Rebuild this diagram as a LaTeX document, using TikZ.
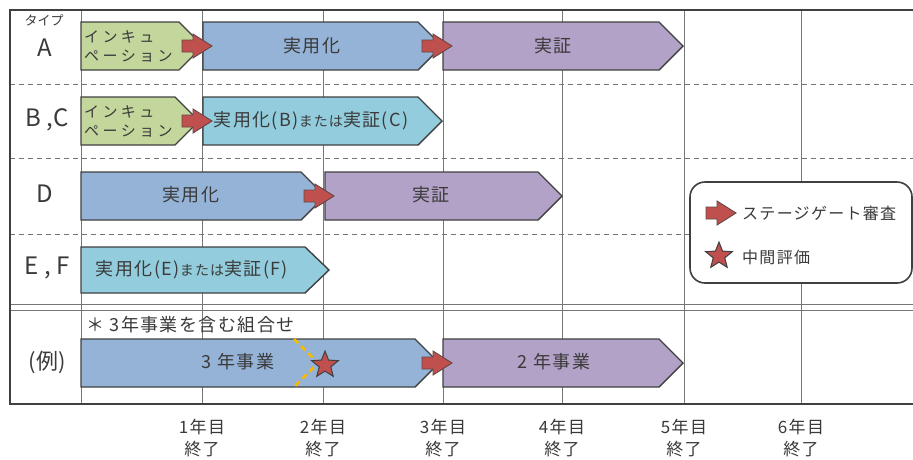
\documentclass[tikz,border=0pt]{standalone}
\usepackage{fontspec}
\setmainfont{Noto Sans CJK JP}
\newfontfamily\jpw{Noto Sans CJK JP}[LetterSpace=8]
\usetikzlibrary{shapes.geometric}
\definecolor{cGreen}{HTML}{C3D69B}
\definecolor{cBlue}{HTML}{95B3D7}
\definecolor{cPurple}{HTML}{B3A2C7}
\definecolor{cCyan}{HTML}{93CDDD}
\definecolor{cRed}{HTML}{C0504D}
\definecolor{cLine}{HTML}{404040}
\definecolor{cGrid}{HTML}{767676}
\definecolor{cTxt}{HTML}{3A3A3A}
\definecolor{cGold}{HTML}{F8BA00}
\newcommand\fs[1]{\fontsize{#1}{#1}\selectfont}
\begin{document}
\begin{tikzpicture}[x=1pt,y=-1pt,
  frame/.style={draw=cLine, line width=1.6pt},
  grid/.style={draw=cGrid, line width=1pt},
  dgrid/.style={draw=cGrid, line width=1pt, dash pattern=on 5pt off 4pt},
  stagebar/.style={draw=cLine, line width=1.4pt, line join=miter},
  lbl/.style={text=cTxt, inner sep=0pt, align=center},
  big/.style={lbl, font=\fs{24}},
  bartxt/.style={lbl, font=\jpw\fs{18}},
  axis/.style={lbl, font=\jpw\fs{17}},
  gatearrow/.pic={\draw[fill=cRed, draw=cLine!70!cRed, line width=0.9pt, line join=miter]
     (-15,-6) -- (-4,-6) -- (-4,-12) -- (15,0) -- (-4,12) -- (-4,6) -- (-15,6) -- cycle;},
  midstar/.style={star, star points=5, star point ratio=2.3, minimum size=28pt, inner sep=0pt,
     fill=cRed, draw=cLine, line width=1pt}
]
\useasboundingbox (0,0) rectangle (913,459);

% grid
\foreach \x in {202,323,443,562,684,801} \draw[grid] (\x,10) -- (\x,404);
\foreach \y in {84,158,234} \draw[dgrid] (10,\y) -- (913,\y);
\draw[grid] (10,304) -- (913,304);
\draw[grid] (10,310) -- (913,310);
\draw[grid] (81,10) -- (81,404);
\draw[frame] (913,10) -- (10,10) -- (10,404) -- (913,404);

% left column labels
\node[lbl, font=\fs{13}] (typ) at (44,20) {タイプ};
\node[big] (la) at (45,48) {A};
\node[big] (lbc) at (47,120) {B ,C};
\node[big] (ld) at (45,194) {D};
\node[big] (lef) at (47,268) {E , F};
\node[lbl, font=\fs{22}] (lex) at (47,362) {(例)};

% row A
\draw[stagebar, fill=cGreen] (81,22) -- (179,22) -- (203,46) -- (179,70) -- (81,70) -- cycle;
\node[lbl, font=\fs{15}, align=left, anchor=west] (a1) at (84,46) {イ ン キ ュ\\[4pt]ペ ー シ ョ ン};
\draw[stagebar, fill=cBlue] (203,22) -- (418,22) -- (442,46) -- (418,70) -- (203,70) -- cycle;
\node[bartxt] (a2) at (312,46) {実用化};
\draw[stagebar, fill=cPurple] (443,22) -- (659,22) -- (683,46) -- (659,70) -- (443,70) -- cycle;
\node[bartxt] (a3) at (553,46) {実証};
\pic at (197,46) {gatearrow};
\pic at (437,46) {gatearrow};

% row B,C
\draw[stagebar, fill=cGreen] (81,97) -- (175,97) -- (199,121) -- (175,145) -- (81,145) -- cycle;
\node[lbl, font=\fs{15}, align=left, anchor=west] (b1) at (84,121) {イ ン キ ュ\\[4pt]ペ ー シ ョ ン};
\draw[stagebar, fill=cCyan] (203,97) -- (418,97) -- (442,121) -- (418,145) -- (203,145) -- cycle;
\node[lbl, font=\jpw] (b2) at (311,121) {\fs{18}実用化(B)\fs{14}または\fs{18}実証(C)};
\pic at (197,121) {gatearrow};

% row D
\draw[stagebar, fill=cBlue] (81,172) -- (301,172) -- (325,196) -- (301,220) -- (81,220) -- cycle;
\node[bartxt] (d1) at (191,195) {実用化};
\draw[stagebar, fill=cPurple] (325,172) -- (538,172) -- (562,196) -- (538,220) -- (325,220) -- cycle;
\node[bartxt] (d2) at (431,195) {実証};
\pic at (319,196) {gatearrow};

% row E,F
\draw[stagebar, fill=cCyan] (81,247) -- (305,247) -- (329,270) -- (305,293) -- (81,293) -- cycle;
\node[lbl, font=\jpw] (e1) at (192,270) {\fs{18}実用化(E)\fs{14}または\fs{18}実証(F)};

% example row
\node[lbl, font=\jpw\fs{18}, anchor=west] (note) at (86,325) {＊ 3年事業を含む組合せ};
\draw[stagebar, fill=cBlue] (81,339) -- (415,339) -- (439,363) -- (415,387) -- (81,387) -- cycle;
\node[bartxt] (x1) at (238,362) {3 年事業};
\draw[stagebar, fill=cPurple] (443,339) -- (659,339) -- (683,363) -- (659,387) -- (443,387) -- cycle;
\node[bartxt] (x2) at (554,362) {2 年事業};
\pic at (437,363) {gatearrow};
\coordinate (y1) at (294,339);
\coordinate (y2) at (318,363);
\coordinate (y3) at (294,387);
\draw[cGold, line width=2.6pt, dash pattern=on 6pt off 4pt] (y1) -- (y2) -- (y3);
\node[midstar] (mid) at (325,365) {};

% axis labels
\foreach \x/\k in {202/1,323/2,443/3,562/4,684/5,801/6} {
  \node[axis] (ax\k) at (\x,427) {\k{}年目};
  \node[axis] (ay\k) at (\x,449) {終了};
}

% legend
\draw[draw=cLine, line width=1.6pt, fill=white, rounded corners=15pt] (690,182) rectangle (912,283);
\pic at (721,213) {gatearrow};
\node[lbl, font=\jpw\fs{16}, anchor=west] (lg1) at (742,213) {ステージゲート審査};
\node[midstar] (lgs) at (719,256) {};
\node[lbl, font=\jpw\fs{16}, anchor=west] (lg2) at (742,257) {中間評価};
\end{tikzpicture}
\end{document}
